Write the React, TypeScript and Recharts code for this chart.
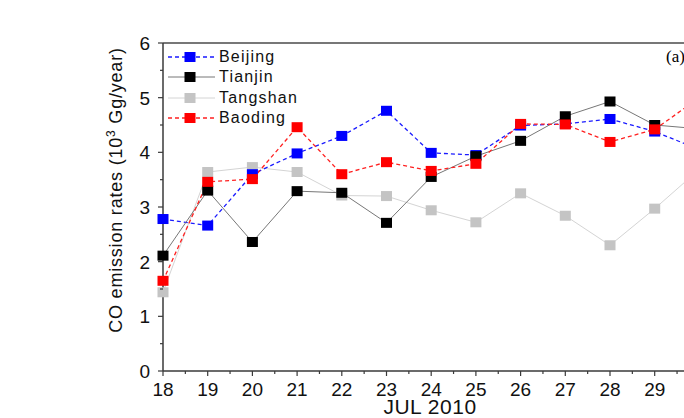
import { Line, LineChart, ReferenceLine, XAxis, YAxis } from "recharts";

// JUL 2010 daily CO emission rates (10^3 Gg/year)
const days = [18, 19, 20, 21, 22, 23, 24, 25, 26, 27, 28, 29, 30];
const beijing = [2.78, 2.66, 3.6, 3.98, 4.3, 4.76, 3.99, 3.95, 4.49, 4.52, 4.61, 4.38, 4.05];
const tianjin = [2.11, 3.3, 2.36, 3.29, 3.26, 2.71, 3.55, 3.93, 4.21, 4.66, 4.93, 4.5, 4.43];
const tangshan = [1.44, 3.64, 3.73, 3.64, 3.21, 3.2, 2.94, 2.72, 3.25, 2.84, 2.3, 2.97, 3.69];
const baoding = [1.65, 3.46, 3.51, 4.46, 3.6, 3.82, 3.66, 3.79, 4.52, 4.51, 4.19, 4.42, 5.0];

const yTicks = [0, 0.5, 1, 1.5, 2, 2.5, 3, 3.5, 4, 4.5, 5, 5.5, 6];
const xTicks = [
  18, 18.5, 19, 19.5, 20, 20.5, 21, 21.5, 22, 22.5, 23, 23.5, 24, 24.5, 25, 25.5,
  26, 26.5, 27, 27.5, 28, 28.5, 29, 29.5, 30, 30.5, 31
];

const rows = days.map((day, i) => ({
  day,
  Beijing: beijing[i],
  Tianjin: tianjin[i],
  Tangshan: tangshan[i],
  Baoding: baoding[i]
}));

type SeriesStyle = { line: string; marker: string; dash?: string; width: number };

const styles: Record<string, SeriesStyle> = {
  Beijing: { line: "#1a1aff", marker: "#0000ff", dash: "4 3", width: 1.3 },
  Tianjin: { line: "#777777", marker: "#000000", width: 1 },
  Tangshan: { line: "#d4d4d4", marker: "#c4c4c4", width: 1 },
  Baoding: { line: "#ff2020", marker: "#ff0000", dash: "4 3", width: 1.3 }
};

// draw order (later on top) vs legend order
const drawOrder = ["Tangshan", "Beijing", "Tianjin", "Baoding"];
const legendOrder = ["Beijing", "Tianjin", "Tangshan", "Baoding"];

const FONT = "'Liberation Sans', Arial, sans-serif";
const AXIS = "#3a3a3a";

function squareDot(color: string) {
  return (p: any) => (
    <rect key={`d-${p.index}`} x={p.cx - 5.5} y={p.cy - 5} width={11} height={10} fill={color} />
  );
}

function YTick(props: any) {
  const { x, y, payload } = props;
  const major = Number.isInteger(payload.value);
  return (
    <g>
      <line x1={x} x2={x - (major ? 5 : 3)} y1={y} y2={y} stroke={AXIS} strokeWidth={1.2} />
      {major && (
        <text x={x - 13} y={y} dy="0.36em" textAnchor="end" fontSize={19} fontFamily={FONT} fill="#111">
          {payload.value}
        </text>
      )}
    </g>
  );
}

function XTick(props: any) {
  const { x, y, payload } = props;
  const major = Number.isInteger(payload.value);
  return (
    <g>
      <line x1={x} x2={x} y1={y} y2={y + (major ? 5 : 3)} stroke={AXIS} strokeWidth={1.2} />
      {major && (
        <text x={x} y={y + 24.5} textAnchor="middle" fontSize={19} fontFamily={FONT} fill="#111">
          {payload.value}
        </text>
      )}
    </g>
  );
}

function LegendBox() {
  return (
    <div
      style={{
        position: "absolute",
        left: 165,
        top: 47,
        fontFamily: FONT,
        fontSize: 16,
        letterSpacing: 1.2,
        color: "#111"
      }}
    >
      {legendOrder.map((name) => {
        const s = styles[name];
        return (
          <div key={name} style={{ display: "flex", alignItems: "center", height: 20.3 }}>
            <svg width={52} height={20} style={{ display: "block" }}>
              <line x1={3} x2={50} y1={10} y2={10} stroke={s.line} strokeWidth={s.width} strokeDasharray={s.dash} />
              <rect x={19.5} y={5} width={11} height={10} fill={s.marker} />
            </svg>
            <span style={{ marginLeft: 2, lineHeight: "20px" }}>{name}</span>
          </div>
        );
      })}
    </div>
  );
}

export default function App() {
  return (
    <div style={{ position: "fixed", left: 0, top: 0, width: 684, height: 418, overflow: "hidden", background: "#fff" }}>
      <LineChart width={770} height={418} data={rows} margin={{ top: 43, right: 25.9, left: 0, bottom: 0 }}>
        <XAxis
          dataKey="day"
          type="number"
          domain={[18, 31]}
          ticks={xTicks}
          interval={0}
          height={47}
          tickSize={0}
          tickMargin={0}
          tick={<XTick />}
          stroke={AXIS}
          strokeWidth={1.5}
          label={{
            content: () => (
              <text x={430} y={414} textAnchor="middle" fontSize={21} fontFamily={FONT} letterSpacing={0.5} fill="#111">
                JUL 2010
              </text>
            )
          }}
        />
        <YAxis
          type="number"
          domain={[0, 6]}
          ticks={yTicks}
          interval={0}
          width={163}
          tickSize={0}
          tickMargin={0}
          tick={<YTick />}
          stroke={AXIS}
          strokeWidth={1.5}
          label={{
            content: () => (
              <text
                x={122}
                y={190}
                transform="rotate(-90 122 190)"
                textAnchor="middle"
                fontSize={18}
                fontFamily={FONT}
                letterSpacing={0.8}
                fill="#111"
              >
                CO emission rates (10
                <tspan dy={-7} fontSize={12}>3</tspan>
                <tspan dy={7}> Gg/year)</tspan>
              </text>
            )
          }}
        />
        <ReferenceLine y={6} stroke="#777" strokeWidth={2} />
        {drawOrder.map((name) => {
          const s = styles[name];
          return (
            <Line
              key={name}
              type="linear"
              dataKey={name}
              stroke={s.line}
              strokeWidth={s.width}
              strokeDasharray={s.dash}
              dot={squareDot(s.marker)}
              activeDot={false}
              isAnimationActive={false}
            />
          );
        })}
      </LineChart>
      <LegendBox />
      <div
        style={{
          position: "absolute",
          left: 666,
          top: 47,
          fontFamily: "'Liberation Serif', 'Times New Roman', serif",
          fontSize: 17
        }}
      >
        (a)
      </div>
    </div>
  );
}
